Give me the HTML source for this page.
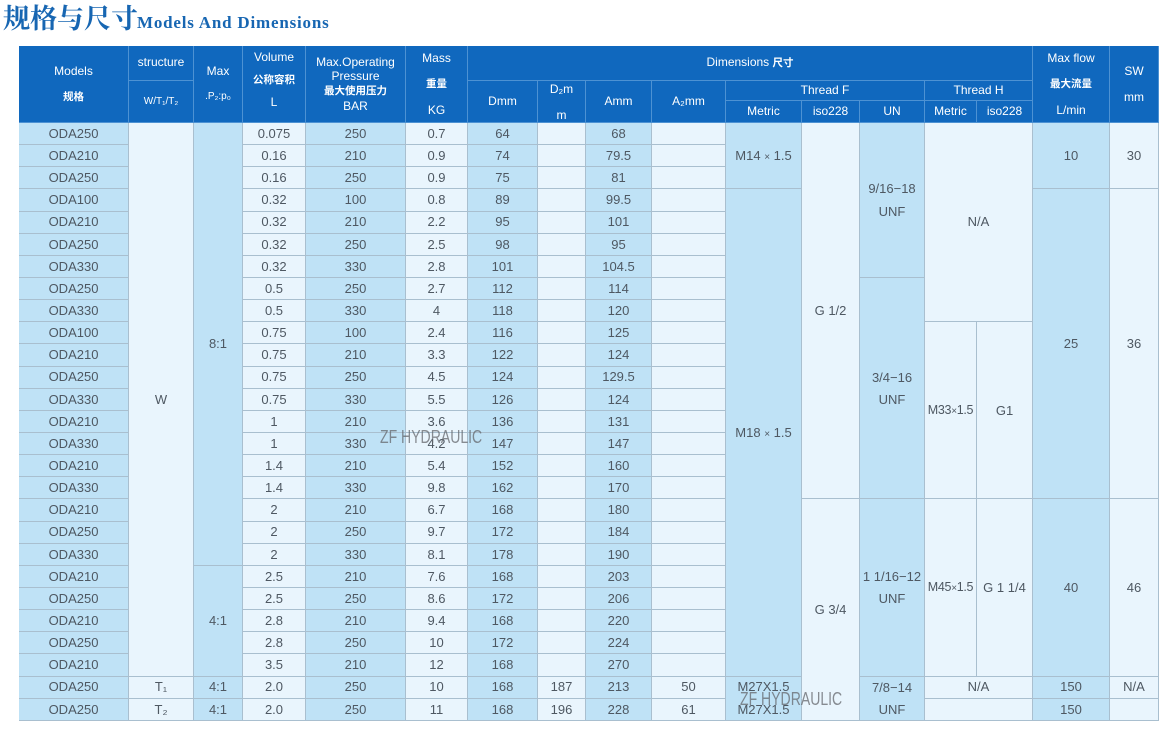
<!DOCTYPE html>
<html>
<head>
<meta charset="utf-8">
<style>
html,body{margin:0;padding:0;}
body{width:1165px;height:730px;background:#fff;position:relative;overflow:hidden;font-family:"Liberation Sans","Noto Sans CJK SC",sans-serif;}
.title{position:absolute;left:3px;top:2px;height:30px;line-height:30px;white-space:nowrap;color:#1766b2;}
.title .zh{font-family:"Noto Serif CJK SC","Noto Sans CJK SC",serif;font-weight:bold;font-size:27px;}
.title .en{font-family:"Liberation Serif",serif;font-weight:bold;font-size:17px;letter-spacing:0.8px;margin-left:-1px;}
.g{position:absolute;left:19px;top:46px;width:1140px;display:grid;
grid-template-columns:110px 65px 49px 63px 100px 62px 70px 48px 66px 74px 76px 58px 65px 52px 56px 77px 49px;
grid-template-rows:35px 20px 22px repeat(27,22.15px);}
.g>div{box-sizing:border-box;border-right:1px solid #a9bfcf;border-bottom:1px solid #a9bfcf;display:flex;flex-direction:column;align-items:center;justify-content:center;text-align:center;font-size:13px;color:#4e5862;white-space:nowrap;background:#e9f5fd;padding-top:1px;line-height:1.1;}
.g>div.L{background:#bfe2f6;}
.g>div.h{background:#1068be;color:#fff;border-color:#4d92d3;font-size:12px;padding-top:0;}
.ln{display:block;}
.cn{font-size:10.5px;font-weight:bold;}
.sm{font-size:10px;}
.x{font-size:10px;}
.wm{position:absolute;font-size:18px;line-height:18px;color:rgba(100,103,108,0.75);transform:scaleX(0.78);transform-origin:left top;white-space:nowrap;}
</style>
</head>
<body>
<div class="title"><span class="zh">规格与尺寸</span><span class="en">Models And Dimensions</span></div>

<div class="g">
<!-- header -->
<div class="h" style="grid-row:1/4;grid-column:1"><span class="ln" style="line-height:26px">Models</span><span class="ln cn" style="line-height:26px">规格</span></div>
<div class="h" style="grid-row:1/2;grid-column:2">structure</div>
<div class="h" style="grid-row:2/4;grid-column:2"><span class="ln sm">W/T₁/T₂</span></div>
<div class="h" style="grid-row:1/4;grid-column:3"><span class="ln" style="line-height:26px">Max</span><span class="ln sm" style="line-height:26px">.P₂:p₀</span></div>
<div class="h" style="grid-row:1/4;grid-column:4;padding-bottom:8px"><span class="ln" style="line-height:22.5px">Volume</span><span class="ln cn" style="line-height:22.5px">公称容积</span><span class="ln" style="line-height:22.5px">L</span></div>
<div class="h" style="grid-row:1/4;grid-column:5"><span class="ln" style="line-height:14.7px">Max.Operating</span><span class="ln" style="line-height:14.7px">Pressure</span><span class="ln cn" style="line-height:14.7px">最大使用压力</span><span class="ln" style="line-height:14.7px">BAR</span></div>
<div class="h" style="grid-row:1/4;grid-column:6"><span class="ln" style="line-height:26px">Mass</span><span class="ln cn" style="line-height:26px">重量</span><span class="ln" style="line-height:26px">KG</span></div>
<div class="h" style="grid-row:1/2;grid-column:7/16"><span class="ln">Dimensions <b class="cn">尺寸</b></span></div>
<div class="h" style="grid-row:2/4;grid-column:7">Dmm</div>
<div class="h" style="grid-row:2/4;grid-column:8"><span class="ln" style="line-height:26px">D₂m</span><span class="ln" style="line-height:26px">m</span></div>
<div class="h" style="grid-row:2/4;grid-column:9">Amm</div>
<div class="h" style="grid-row:2/4;grid-column:10">A₂mm</div>
<div class="h" style="grid-row:2/3;grid-column:11/14">Thread F</div>
<div class="h" style="grid-row:2/3;grid-column:14/16">Thread H</div>
<div class="h" style="grid-row:3/4;grid-column:11">Metric</div>
<div class="h" style="grid-row:3/4;grid-column:12">iso228</div>
<div class="h" style="grid-row:3/4;grid-column:13">UN</div>
<div class="h" style="grid-row:3/4;grid-column:14">Metric</div>
<div class="h" style="grid-row:3/4;grid-column:15">iso228</div>
<div class="h" style="grid-row:1/4;grid-column:16"><span class="ln" style="line-height:26px">Max flow</span><span class="ln cn" style="line-height:26px">最大流量</span><span class="ln" style="line-height:26px">L/min</span></div>
<div class="h" style="grid-row:1/4;grid-column:17"><span class="ln" style="line-height:26px">SW</span><span class="ln" style="line-height:26px">mm</span></div>

<!-- merged body cells -->
<div style="grid-row:4/29;grid-column:2">W</div>
<div class="L" style="grid-row:4/24;grid-column:3">8:1</div>
<div class="L" style="grid-row:24/29;grid-column:3">4:1</div>
<div class="L" style="grid-row:4/7;grid-column:11"><span class="ln">M14 <small class="x">×</small> 1.5</span></div>
<div class="L" style="grid-row:7/29;grid-column:11"><span class="ln">M18 <small class="x">×</small> 1.5</span></div>
<div style="grid-row:4/21;grid-column:12">G 1/2</div>
<div style="grid-row:21/31;grid-column:12">G 3/4</div>
<div class="L" style="grid-row:4/11;grid-column:13"><span class="ln" style="line-height:23px">9/16−18</span><span class="ln" style="line-height:23px">UNF</span></div>
<div class="L" style="grid-row:11/21;grid-column:13"><span class="ln" style="line-height:22px">3/4−16</span><span class="ln" style="line-height:22px">UNF</span></div>
<div class="L" style="grid-row:21/29;grid-column:13"><span class="ln" style="line-height:22px">1 1/16−12</span><span class="ln" style="line-height:22px">UNF</span></div>
<div class="L" style="grid-row:29/31;grid-column:13"><span class="ln" style="line-height:22px">7/8−14</span><span class="ln" style="line-height:22px">UNF</span></div>
<div style="grid-row:4/13;grid-column:14/16">N/A</div>
<div style="grid-row:13/21;grid-column:14;font-size:12.5px;letter-spacing:-0.3px"><span class="ln">M33<small class="x">×</small>1.5</span></div>
<div style="grid-row:13/21;grid-column:15">G1</div>
<div style="grid-row:21/29;grid-column:14;font-size:12.5px;letter-spacing:-0.3px"><span class="ln">M45<small class="x">×</small>1.5</span></div>
<div style="grid-row:21/29;grid-column:15">G 1 1/4</div>
<div class="L" style="grid-row:4/7;grid-column:16">10</div>
<div class="L" style="grid-row:7/21;grid-column:16">25</div>
<div class="L" style="grid-row:21/29;grid-column:16">40</div>
<div style="grid-row:4/7;grid-column:17">30</div>
<div style="grid-row:7/21;grid-column:17">36</div>
<div style="grid-row:21/29;grid-column:17">46</div>

<!-- auto-placed body cells -->
<div class="L">ODA250</div><div>0.075</div><div class="L">250</div><div>0.7</div><div class="L">64</div><div></div><div class="L">68</div><div></div>
<div class="L">ODA210</div><div>0.16</div><div class="L">210</div><div>0.9</div><div class="L">74</div><div></div><div class="L">79.5</div><div></div>
<div class="L">ODA250</div><div>0.16</div><div class="L">250</div><div>0.9</div><div class="L">75</div><div></div><div class="L">81</div><div></div>
<div class="L">ODA100</div><div>0.32</div><div class="L">100</div><div>0.8</div><div class="L">89</div><div></div><div class="L">99.5</div><div></div>
<div class="L">ODA210</div><div>0.32</div><div class="L">210</div><div>2.2</div><div class="L">95</div><div></div><div class="L">101</div><div></div>
<div class="L">ODA250</div><div>0.32</div><div class="L">250</div><div>2.5</div><div class="L">98</div><div></div><div class="L">95</div><div></div>
<div class="L">ODA330</div><div>0.32</div><div class="L">330</div><div>2.8</div><div class="L">101</div><div></div><div class="L">104.5</div><div></div>
<div class="L">ODA250</div><div>0.5</div><div class="L">250</div><div>2.7</div><div class="L">112</div><div></div><div class="L">114</div><div></div>
<div class="L">ODA330</div><div>0.5</div><div class="L">330</div><div>4</div><div class="L">118</div><div></div><div class="L">120</div><div></div>
<div class="L">ODA100</div><div>0.75</div><div class="L">100</div><div>2.4</div><div class="L">116</div><div></div><div class="L">125</div><div></div>
<div class="L">ODA210</div><div>0.75</div><div class="L">210</div><div>3.3</div><div class="L">122</div><div></div><div class="L">124</div><div></div>
<div class="L">ODA250</div><div>0.75</div><div class="L">250</div><div>4.5</div><div class="L">124</div><div></div><div class="L">129.5</div><div></div>
<div class="L">ODA330</div><div>0.75</div><div class="L">330</div><div>5.5</div><div class="L">126</div><div></div><div class="L">124</div><div></div>
<div class="L">ODA210</div><div>1</div><div class="L">210</div><div>3.6</div><div class="L">136</div><div></div><div class="L">131</div><div></div>
<div class="L">ODA330</div><div>1</div><div class="L">330</div><div>4.2</div><div class="L">147</div><div></div><div class="L">147</div><div></div>
<div class="L">ODA210</div><div>1.4</div><div class="L">210</div><div>5.4</div><div class="L">152</div><div></div><div class="L">160</div><div></div>
<div class="L">ODA330</div><div>1.4</div><div class="L">330</div><div>9.8</div><div class="L">162</div><div></div><div class="L">170</div><div></div>
<div class="L">ODA210</div><div>2</div><div class="L">210</div><div>6.7</div><div class="L">168</div><div></div><div class="L">180</div><div></div>
<div class="L">ODA250</div><div>2</div><div class="L">250</div><div>9.7</div><div class="L">172</div><div></div><div class="L">184</div><div></div>
<div class="L">ODA330</div><div>2</div><div class="L">330</div><div>8.1</div><div class="L">178</div><div></div><div class="L">190</div><div></div>
<div class="L">ODA210</div><div>2.5</div><div class="L">210</div><div>7.6</div><div class="L">168</div><div></div><div class="L">203</div><div></div>
<div class="L">ODA250</div><div>2.5</div><div class="L">250</div><div>8.6</div><div class="L">172</div><div></div><div class="L">206</div><div></div>
<div class="L">ODA210</div><div>2.8</div><div class="L">210</div><div>9.4</div><div class="L">168</div><div></div><div class="L">220</div><div></div>
<div class="L">ODA250</div><div>2.8</div><div class="L">250</div><div>10</div><div class="L">172</div><div></div><div class="L">224</div><div></div>
<div class="L">ODA210</div><div>3.5</div><div class="L">210</div><div>12</div><div class="L">168</div><div></div><div class="L">270</div><div></div>
<div class="L">ODA250</div><div>T₁</div><div class="L">4:1</div><div>2.0</div><div class="L">250</div><div>10</div><div class="L">168</div><div>187</div><div class="L">213</div><div>50</div><div class="L" style="border-bottom-color:#bfe2f6">M27X1.5</div><div style="grid-column:span 2">N/A</div><div class="L">150</div><div>N/A</div>
<div class="L">ODA250</div><div>T₂</div><div class="L">4:1</div><div>2.0</div><div class="L">250</div><div>11</div><div class="L">168</div><div>196</div><div class="L">228</div><div>61</div><div class="L">M27X1.5</div><div style="grid-column:span 2"></div><div class="L">150</div><div></div>
</div>

<div class="wm" style="left:380px;top:428px;">ZF HYDRAULIC</div>
<div class="wm" style="left:740px;top:690px;">ZF HYDRAULIC</div>
</body>
</html>
